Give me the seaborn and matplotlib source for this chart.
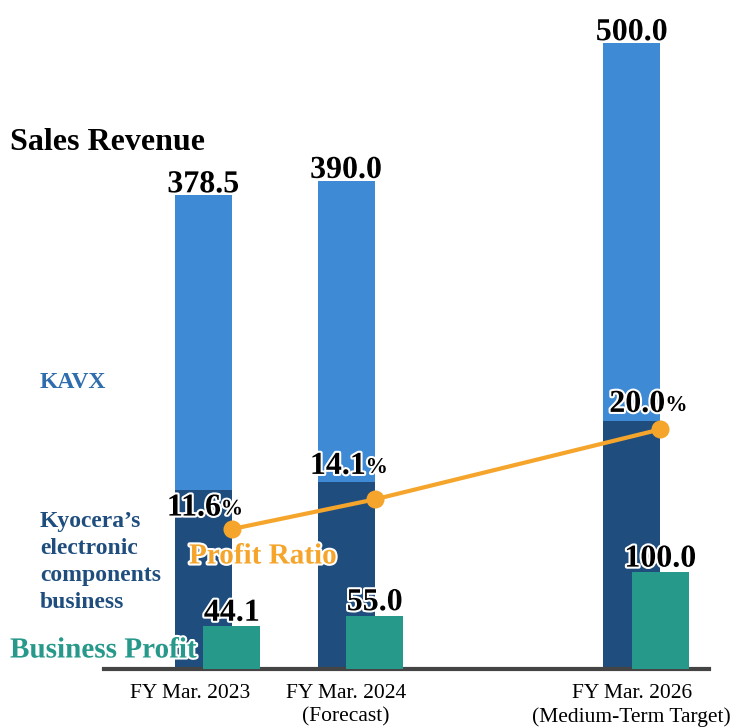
import matplotlib
matplotlib.use("Agg")
import matplotlib.pyplot as plt
import matplotlib.patheffects as pe
import matplotlib.transforms as mtransforms
import seaborn as sns
import pandas as pd

# data
periods = ["FY Mar. 2023", "FY Mar. 2024\n(Forecast)", "FY Mar. 2026\n(Medium-Term Target)"]
period_pos = [0, 1, 3]
sales_total = [378.5, 390.0, 500.0]
sales_kyocera = [143.0, 149.0, 198.0]   # dark-blue part (estimated, not labelled)
profit = [44.1, 55.0, 100.0]
profit_ratio = [11.6, 14.1, 20.0]

LIGHT_BLUE = "#3F8AD5"
DARK_BLUE = "#1F4E7E"
TEAL = "#27998A"
ORANGE = "#F5A52B"
AXIS_GRAY = "#444444"

sns.set_style("white")
plt.rcParams["font.family"] = ["Liberation Serif", "DejaVu Serif"]
plt.rcParams["text.color"] = "black"
plt.rcParams["xtick.color"] = "black"

W, H = 739, 727
fig = plt.figure(figsize=(W / 100, H / 100), dpi=100)
ax = fig.add_axes([104 / W, 58 / H, 605 / W, 669 / H])
ax_p = ax.twinx()
ax_r = ax.twinx()

df = pd.DataFrame({"pos": period_pos, "total": sales_total, "kyocera": sales_kyocera,
                   "profit": profit, "ratio": profit_ratio})
df["profit_pos"] = df["pos"] + 0.2

bar_kw = dict(native_scale=True, width=0.4, saturation=1, errorbar=None, linewidth=0)
# stacked sales bars
sns.barplot(data=df, x="pos", y="total", color=LIGHT_BLUE, ax=ax, **bar_kw)
sns.barplot(data=df, x="pos", y="kyocera", color=DARK_BLUE, ax=ax, **bar_kw)
# profit bars, shifted half a bar to the right
sns.barplot(data=df, x="profit_pos", y="profit", color=TEAL, ax=ax_p, **bar_kw)
# profit ratio line
sns.lineplot(data=df, x="profit_pos", y="ratio", color=ORANGE, lw=3, marker="o",
             markersize=13, markeredgewidth=0, ax=ax_r)

stroke = [pe.withStroke(linewidth=3, foreground="white")]
num_font = dict(fontsize=23, fontweight="bold", color="black")

for x, v in zip(period_pos, sales_total):
    ax.annotate(f"{v:.1f}", (x, v), xytext=(0, 2), textcoords="offset points",
                ha="center", va="baseline", path_effects=stroke, **num_font)
for x, v in zip(df["profit_pos"], profit):
    ax_p.annotate(f"{v:.1f}", (x, v), xytext=(0, 4), textcoords="offset points",
                  ha="center", va="baseline", path_effects=stroke, **num_font)

ratio_offsets = [(-11, 21), (-9, 33), (5, 25)]  # px, from the marker
for x, v, (dx, dy) in zip(df["profit_pos"], profit_ratio, ratio_offsets):
    off = (dx * 0.72, dy * 0.72)
    ax_r.annotate(f"{v:.1f}", (x, v), xytext=off, textcoords="offset points",
                  ha="right", va="center", path_effects=stroke, **num_font)
    ax_r.annotate("%", (x, v), xytext=(off[0], off[1] - 1), textcoords="offset points",
                  ha="left", va="center", fontsize=16, fontweight="bold",
                  path_effects=stroke)

# scales chosen so all three series share the same baseline
ax.set_ylim(0, 534.3)
ax_p.set_ylim(0, 691)
ax_r.set_ylim(-0.19, 56.18)
for a in (ax, ax_p, ax_r):
    a.set_xlim(-0.695, 3.541)
    a.set_ylabel("")
    a.set_xlabel("")
    a.set_yticks([])
    for s in a.spines.values():
        s.set_visible(False)
ax_p.set_xticks([])
ax_r.set_xticks([])

ax.spines["bottom"].set_visible(True)
ax.spines["bottom"].set_color(AXIS_GRAY)
ax.spines["bottom"].set_linewidth(3)
ax.set_xticks(period_pos)
ax.set_xticklabels(periods, fontsize=15.5, linespacing=1.3)
ax.tick_params(axis="x", length=0, pad=11)
# first label sits a little left of its bar in the reference
first = ax.get_xticklabels()[0]
first.set_transform(first.get_transform() +
                    mtransforms.ScaledTranslation(-13 / 100, 0, fig.dpi_scale_trans))


def fig_xy(px, py):
    return px / W, 1 - py / H


fig.text(*fig_xy(10, 142), "Sales Revenue", fontsize=23, fontweight="bold", va="center")
fig.text(*fig_xy(40, 382), "KAVX", fontsize=17, fontweight="bold", color="#2E6DAE", va="center")
fig.text(*fig_xy(40, 562), "Kyocera’s\nelectronic\ncomponents\nbusiness", fontsize=17,
         fontweight="bold", color=DARK_BLUE, va="center", linespacing=1.38)
fig.text(*fig_xy(10, 650), "Business Profit", fontsize=21, fontweight="bold", color=TEAL,
         va="center", path_effects=stroke, zorder=10)
fig.text(*fig_xy(189, 556), "Profit Ratio", fontsize=21, fontweight="bold", color=ORANGE,
         va="center", path_effects=stroke, zorder=10)

fig.savefig("out.png", dpi=100)
